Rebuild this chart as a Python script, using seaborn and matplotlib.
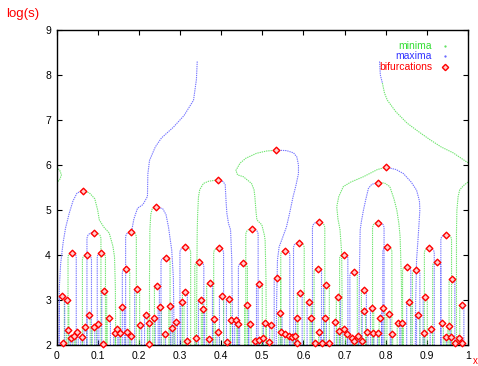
import numpy as np
import pandas as pd
import matplotlib
matplotlib.use("Agg")  # no display
import matplotlib.pyplot as plt
from matplotlib.path import Path
from matplotlib.patches import PathPatch
import seaborn as sns

# bifurcation points (top of each max/min arch)
bif_x = [0.013, 0.017, 0.025, 0.027, 0.036, 0.038, 0.042, 0.050, 0.061, 0.065,
         0.070, 0.074, 0.078, 0.090, 0.091, 0.100, 0.109, 0.114, 0.116, 0.127,
         0.141, 0.146, 0.154, 0.160, 0.169, 0.171, 0.181, 0.181, 0.196, 0.204,
         0.218, 0.224, 0.225, 0.237, 0.242, 0.244, 0.251, 0.263, 0.265, 0.277,
         0.280, 0.291, 0.306, 0.312, 0.313, 0.316, 0.339, 0.347, 0.350, 0.356,
         0.371, 0.372, 0.383, 0.392, 0.393, 0.394, 0.401, 0.415, 0.418, 0.425,
         0.436, 0.442, 0.453, 0.462, 0.470, 0.475, 0.482, 0.491, 0.493, 0.501,
         0.506, 0.516, 0.521, 0.534, 0.537, 0.544, 0.546, 0.556, 0.556, 0.564,
         0.572, 0.579, 0.584, 0.584, 0.589, 0.591, 0.614, 0.619, 0.629, 0.635,
         0.637, 0.639, 0.645, 0.653, 0.656, 0.661, 0.678, 0.685, 0.686, 0.698,
         0.699, 0.705, 0.718, 0.722, 0.722, 0.732, 0.742, 0.747, 0.747, 0.755,
         0.767, 0.769, 0.781, 0.782, 0.782, 0.787, 0.794, 0.801, 0.804, 0.807,
         0.815, 0.831, 0.840, 0.851, 0.856, 0.874, 0.879, 0.893, 0.896, 0.906,
         0.911, 0.924, 0.937, 0.946, 0.947, 0.954, 0.959, 0.961, 0.969, 0.977,
         0.985, 0.985]
bif_y = [3.10, 2.04, 3.01, 2.33, 2.16, 4.04, 2.20, 2.28, 2.17, 5.43,
         2.39, 3.99, 2.67, 2.41, 4.50, 2.47, 4.04, 2.02, 3.21, 2.59,
         2.26, 2.35, 2.27, 2.85, 3.68, 2.29, 4.51, 2.20, 3.24, 2.44,
         2.66, 2.48, 2.02, 2.59, 5.07, 3.31, 2.85, 2.24, 3.94, 2.87,
         2.37, 2.51, 2.95, 3.18, 4.17, 2.10, 2.16, 3.84, 3.00, 2.79,
         2.14, 3.37, 2.57, 5.67, 2.29, 4.15, 3.10, 2.06, 3.03, 2.56,
         2.56, 2.47, 3.82, 2.90, 2.47, 4.58, 2.10, 2.11, 3.36, 2.15,
         2.50, 2.07, 2.45, 6.33, 3.50, 2.72, 2.29, 4.10, 2.24, 2.20,
         2.17, 2.19, 2.59, 2.05, 4.27, 3.15, 2.96, 2.60, 2.05, 3.70,
         4.73, 2.29, 2.05, 2.60, 3.34, 2.04, 2.51, 3.07, 2.32, 4.01,
         2.36, 2.24, 2.16, 2.10, 3.62, 2.19, 2.10, 3.22, 2.75, 2.29,
         2.82, 2.27, 5.61, 4.72, 2.26, 2.59, 2.82, 5.95, 4.17, 2.69,
         2.24, 2.48, 2.50, 3.73, 2.96, 3.66, 2.67, 2.27, 3.06, 4.15,
         2.35, 3.84, 2.48, 2.17, 4.45, 2.42, 2.17, 3.47, 2.05, 2.16,
         2.05, 2.90]
# half distance between the two legs of each arch at the bottom (nan = traced below)
nan = np.nan
bif_half = [0.006, 0.002, 0.005, 0.003, 0.002, 0.010, 0.002, 0.003, 0.002, nan,
            0.003, 0.011, 0.004, 0.003, 0.017, 0.003, 0.010, 0.002, 0.006, 0.004,
            0.002, 0.003, 0.002, 0.005, 0.009, 0.003, 0.013, 0.002, 0.006, 0.003,
            0.004, 0.003, 0.002, 0.003, nan, 0.006, 0.004, 0.002, 0.011, 0.004,
            0.003, 0.003, 0.004, 0.006, 0.013, 0.002, 0.002, 0.011, 0.005, 0.004,
            0.002, 0.007, 0.003, nan, 0.003, 0.012, 0.005, 0.002, 0.005, 0.003,
            0.003, 0.003, 0.011, 0.005, 0.003, 0.015, 0.002, 0.002, 0.007, 0.002,
            0.003, 0.002, 0.003, nan, 0.008, 0.004, 0.002, 0.011, 0.002, 0.002,
            0.002, 0.002, 0.003, 0.002, 0.013, 0.006, 0.005, 0.003, 0.002, 0.009,
            0.015, 0.002, 0.002, 0.003, 0.007, 0.002, 0.003, 0.005, 0.002, 0.010,
            0.003, 0.002, 0.002, 0.002, 0.009, 0.002, 0.002, 0.006, 0.004, 0.002,
            0.004, 0.002, nan, 0.014, 0.002, 0.003, 0.004, nan, 0.011, 0.004,
            0.002, 0.003, 0.003, 0.010, 0.005, 0.009, 0.004, 0.002, 0.005, 0.012,
            0.003, 0.010, 0.003, 0.002, 0.013, 0.003, 0.002, 0.007, 0.002, 0.002,
            0.002, 0.005]

# the larger lines, traced by hand
max_long_x = [0.342, 0.340, 0.333, 0.310, 0.284, 0.255, 0.240, 0.226, 0.222, 0.221, 0.210, 0.197, 0.188, 0.183]
max_long_y = [8.30, 7.90, 7.44, 7.10, 6.84, 6.60, 6.40, 6.10, 5.80, 5.30, 5.12, 5.04, 4.80, 4.55]
max_a_x = [0.065, 0.050, 0.040, 0.031, 0.022, 0.016, 0.010, 0.007, 0.006]
max_a_y = [5.43, 5.38, 5.20, 4.93, 4.60, 4.27, 3.80, 3.30, 2.00]
min_a_x = [0.065, 0.080, 0.093, 0.100, 0.104, 0.115, 0.128, 0.137, 0.141, 0.143, 0.144]
min_a_y = [5.43, 5.38, 5.25, 5.00, 4.78, 4.62, 4.49, 4.20, 3.96, 3.30, 2.00]
min_b_x = [0.242, 0.233, 0.229, 0.227, 0.226, 0.226]
min_b_y = [5.07, 5.04, 4.90, 4.56, 3.50, 2.00]
max_b_x = [0.242, 0.258, 0.266, 0.272, 0.280, 0.284, 0.286]
max_b_y = [5.07, 5.03, 4.90, 4.63, 4.11, 3.50, 2.00]
min_c_x = [0.392, 0.370, 0.357, 0.348, 0.345, 0.343, 0.342, 0.341, 0.340]
min_c_y = [5.67, 5.64, 5.59, 5.45, 5.29, 4.90, 4.56, 3.50, 2.00]
max_c_x = [0.392, 0.405, 0.410, 0.412, 0.414, 0.418, 0.423, 0.426, 0.428]
max_c_y = [5.67, 5.63, 5.56, 5.20, 4.93, 4.70, 4.56, 3.89, 2.00]
min_d_x = [0.534, 0.510, 0.486, 0.460, 0.446, 0.436, 0.440, 0.454, 0.474, 0.480, 0.482,
           0.485, 0.487, 0.499, 0.505, 0.507, 0.509, 0.510]
min_d_y = [6.33, 6.31, 6.26, 6.15, 6.04, 5.88, 5.78, 5.74, 5.59, 5.45, 5.30,
           4.95, 4.78, 4.67, 4.45, 4.33, 3.50, 2.00]
max_d_x = [0.534, 0.559, 0.576, 0.584, 0.588, 0.588, 0.582, 0.575, 0.567, 0.559, 0.548,
           0.541, 0.537, 0.535, 0.534]
max_d_y = [6.33, 6.32, 6.27, 6.18, 6.00, 5.81, 5.55, 5.30, 4.95, 4.63, 4.35,
           4.18, 3.89, 3.00, 2.00]
min_e_x = [0.801, 0.780, 0.746, 0.715, 0.697, 0.686, 0.681, 0.684, 0.689, 0.693, 0.694, 0.694]
min_e_y = [5.95, 5.90, 5.74, 5.62, 5.52, 5.30, 5.07, 4.80, 4.56, 4.04, 3.00, 2.00]
max_e_x = [0.801, 0.825, 0.843, 0.862, 0.875, 0.882, 0.883, 0.881, 0.879, 0.875, 0.873, 0.872]
max_e_y = [5.95, 5.90, 5.81, 5.62, 5.44, 5.20, 5.00, 4.70, 4.41, 3.89, 3.00, 2.00]
max_f_x = [0.781, 0.766, 0.758, 0.752, 0.746, 0.741, 0.738, 0.736, 0.735]
max_f_y = [5.61, 5.57, 5.48, 5.25, 5.00, 4.75, 4.56, 3.50, 2.00]
min_f_x = [0.781, 0.797, 0.810, 0.820, 0.827, 0.832, 0.835, 0.838, 0.840]
min_f_y = [5.61, 5.60, 5.52, 5.25, 5.00, 4.70, 4.41, 3.50, 2.00]
max_top_x = [0.785, 0.787, 0.792]
max_top_y = [8.30, 8.00, 7.82]
min_top_x = [0.792, 0.797, 0.804, 0.825, 0.852, 0.880, 0.908, 0.935, 0.964, 0.985, 1.000]
min_top_y = [7.82, 7.60, 7.44, 7.18, 6.93, 6.74, 6.56, 6.40, 6.27, 6.14, 6.05]
min_edge_r_x = [1.000, 0.990, 0.980, 0.976, 0.973, 0.972, 0.972, 0.972]
min_edge_r_y = [5.62, 5.55, 5.45, 5.30, 5.00, 4.50, 3.50, 2.00]
min_edge_l_x = [0.000, 0.008, 0.012, 0.008, 0.000]
min_edge_l_y = [5.95, 5.88, 5.78, 5.68, 5.60]

x_ticks = [0, 0.1, 0.2, 0.3, 0.4, 0.5, 0.6, 0.7, 0.8, 0.9, 1]
x_tick_labels = ["0", "0.1", "0.2", "0.3", "0.4", "0.5", "0.6", "0.7", "0.8", "0.9", "1"]
y_ticks = [2, 3, 4, 5, 6, 7, 8, 9]

BLUE = "#5c5cff"
GREEN = "#55e055"
RED = "#ff0000"
DOTS = (0, (1.2, 0.8))  # gnuplot draws these curves as dots

sns.set_style("ticks")
plt.rcParams["font.family"] = ["Liberation Sans", "DejaVu Sans"]

fig = plt.figure(figsize=(4.78, 3.66), dpi=100)
ax = fig.add_axes([56.5 / 478, 21 / 366, 411.5 / 478, 315 / 366])
ax.set_xlim(0, 1)
ax.set_ylim(2, 9)

# legs of each arch: straight up from the bottom, rounded into the top
aspect = 411.5 / (315 / 7.0)  # y units per x unit at equal pixels
for i, (bx, by, h) in enumerate(zip(bif_x, bif_y, bif_half)):
    if np.isnan(h):
        continue
    cols = (BLUE, GREEN) if i % 2 == 0 else (GREEN, BLUE)
    for foot, col in ((bx - h, cols[0]), (bx + h, cols[1])):
        r = min(aspect * h, by - 2)
        verts = [(foot, 2), (foot, by - r), (foot, by), (bx, by)]
        codes = [Path.MOVETO, Path.LINETO, Path.CURVE3, Path.CURVE3]
        ax.add_patch(PathPatch(Path(verts, codes), fill=False, edgecolor=col,
                               lw=0.8, linestyle=DOTS, alpha=0.85))

# big lines through seaborn
big_lines = [
    (max_long_x, max_long_y, "maxima"), (max_a_x, max_a_y, "maxima"), (min_a_x, min_a_y, "minima"),
    (min_b_x, min_b_y, "minima"), (max_b_x, max_b_y, "maxima"), (min_c_x, min_c_y, "minima"),
    (max_c_x, max_c_y, "maxima"), (min_d_x, min_d_y, "minima"), (max_d_x, max_d_y, "maxima"),
    (min_e_x, min_e_y, "minima"), (max_e_x, max_e_y, "maxima"), (max_f_x, max_f_y, "maxima"),
    (min_f_x, min_f_y, "minima"), (max_top_x, max_top_y, "maxima"), (min_top_x, min_top_y, "minima"),
    (min_edge_r_x, min_edge_r_y, "minima"), (min_edge_l_x, min_edge_l_y, "minima"),
]
rows = []
for n, (xs, ys, kind) in enumerate(big_lines):
    for j, (xv, yv) in enumerate(zip(xs, ys)):
        rows.append({"x": xv, "y": yv, "line": n, "order": j, "kind": kind})
df = pd.DataFrame(rows)
sns.lineplot(data=df, x="x", y="y", units="line", estimator=None, sort=False,
             hue="kind", palette={"maxima": BLUE, "minima": GREEN},
             legend=False, lw=0.8, linestyle=DOTS, alpha=0.85, ax=ax)

# bifurcation markers
sns.scatterplot(x=bif_x, y=bif_y, marker="D", s=11, color="#ffd0d0", edgecolor=RED,
                linewidth=1.0, zorder=5, clip_on=False, ax=ax)

ax.set_xticks(x_ticks)
ax.set_xticklabels(x_tick_labels)
ax.set_yticks(y_ticks)
ax.set_xlabel("")
ax.set_ylabel("")
ax.tick_params(direction="in", top=True, right=True, length=3.5, width=0.8,
               labelsize=7.5, pad=4, colors="black")
for sp in ax.spines.values():
    sp.set_color("black")
    sp.set_linewidth(1.0)

# legend like gnuplot: right aligned coloured text, sample to the right
leg_labels = ["minima", "maxima", "bifurcations"]
leg_colors = ["#33dd33", "#3333ff", RED]
leg_y = [0.949, 0.916, 0.883]
for lab, col, yy in zip(leg_labels, leg_colors, leg_y):
    ax.text(0.9125, yy, lab, transform=ax.transAxes, ha="right", va="center",
            color=col, fontsize=7.5)
ax.plot([0.944], [leg_y[0]], marker=".", ms=1.2, color=GREEN, transform=ax.transAxes)
ax.plot([0.944], [leg_y[1]], marker=".", ms=1.2, color=BLUE, transform=ax.transAxes)
ax.plot([0.944], [leg_y[2]], marker="D", ms=3.2, mfc="#ffd0d0", mec=RED, mew=1.0,
        transform=ax.transAxes)

fig.text(22.5 / 478, 1 - 14 / 366, "log(s)", color=RED, fontsize=9.5, ha="center", va="center")
fig.text(475 / 478, 1 - 361 / 366, "x", color=RED, fontsize=7, ha="center", va="center")

fig.savefig("out.png", dpi=100)
